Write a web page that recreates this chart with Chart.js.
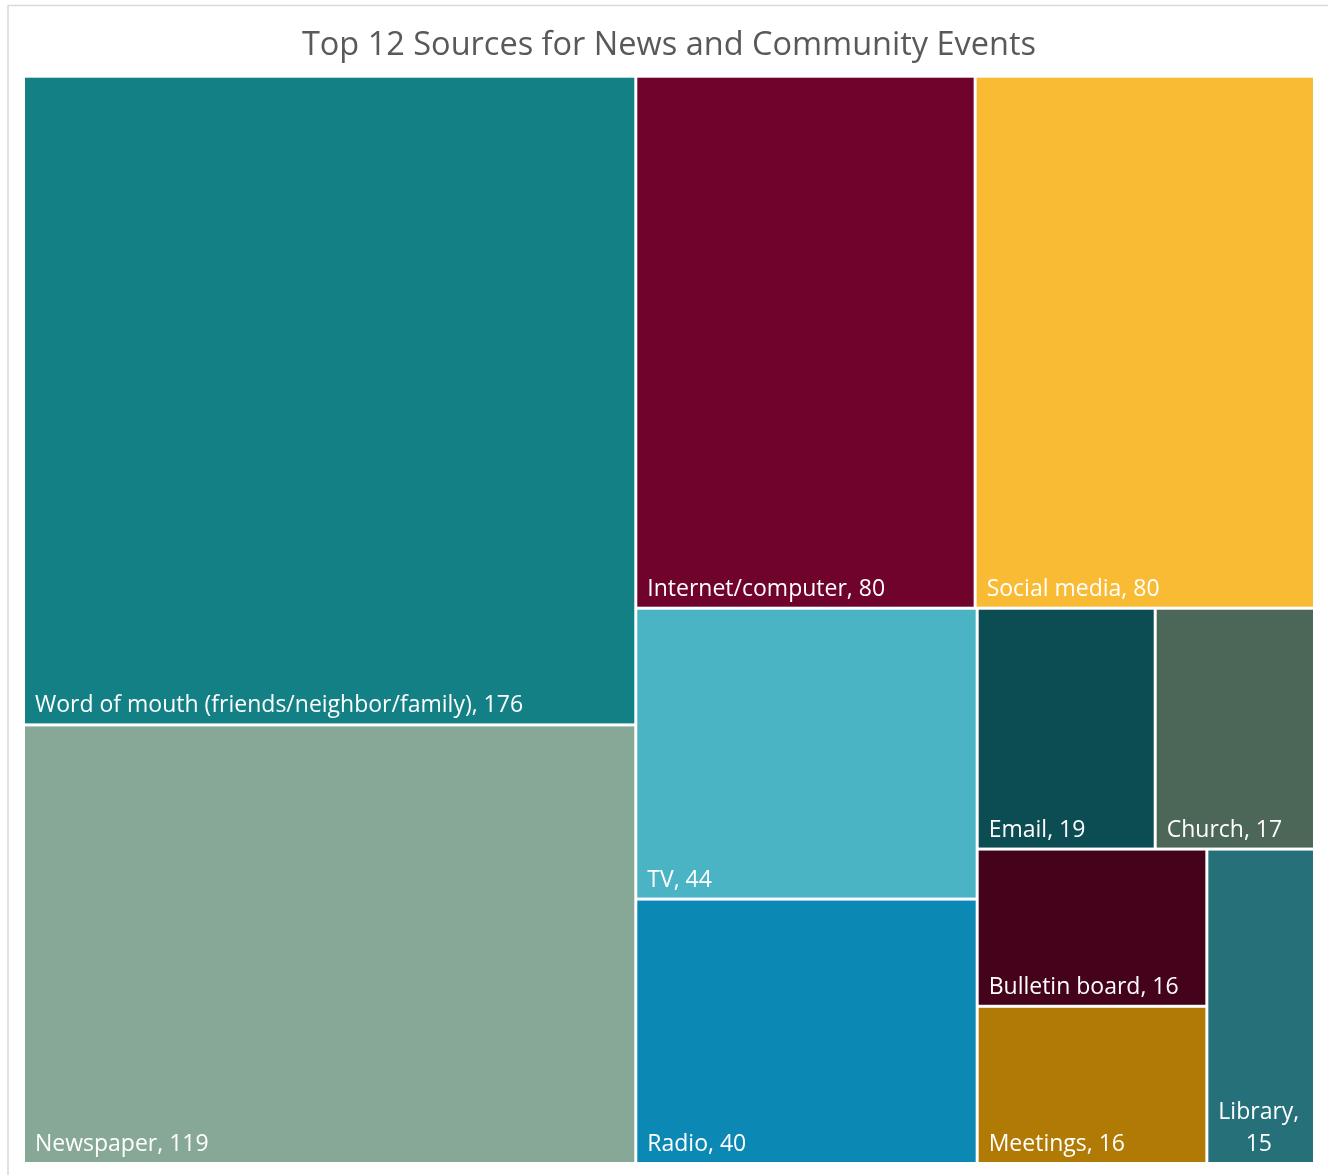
<!DOCTYPE html>
<html>
<head>
<meta charset="utf-8">
<title>Top 12 Sources for News and Community Events</title>
<script src="https://cdn.jsdelivr.net/npm/chart.js@4.4.1/dist/chart.umd.min.js"></script>
<style>
  html, body { margin: 0; padding: 0; background: #fff; }
  canvas { display: block; }
</style>
</head>
<body>
<canvas id="sourcesChart" width="1328" height="1175"></canvas>
<script>
const sources = [
  'Word of mouth (friends/neighbor/family)', 'Newspaper', 'Internet/computer',
  'Social media', 'TV', 'Radio', 'Email', 'Church', 'Bulletin board',
  'Meetings', 'Library'
];
const responses = [176, 119, 80, 80, 44, 40, 19, 17, 16, 16, 15];
const cellColors = [
  '#138085', '#87a896', '#6f032c', '#f9bb34', '#4ab3c4', '#0b88b3',
  '#0c4d54', '#4c6758', '#44031a', '#b07a04', '#267079'
];

const FONT = '"Open Sans", "Noto Sans", sans-serif';

// worst aspect ratio of a row laid along a side of given length
function worstRatio(row, side) {
  let sum = 0, max = -Infinity, min = Infinity;
  row.forEach(r => { sum += r.area; max = Math.max(max, r.area); min = Math.min(min, r.area); });
  const s2 = side * side, sum2 = sum * sum;
  return Math.max(s2 * max / sum2, sum2 / (s2 * min));
}

// squarified layout, values are assumed sorted descending
function squarify(values, w, h) {
  const total = values.reduce((a, b) => a + b, 0);
  let items = values.map((v, i) => ({ i, area: v / total * w * h }));
  const out = [];
  let x = 0, y = 0;
  while (items.length) {
    const side = Math.min(w, h);
    const row = [items[0]];
    let k = 1;
    while (k < items.length && worstRatio(row.concat(items[k]), side) <= worstRatio(row, side)) {
      row.push(items[k]);
      k++;
    }
    items = items.slice(k);
    const sum = row.reduce((a, r) => a + r.area, 0);
    if (w >= h) {
      const cw = sum / h;
      let cy = y;
      row.forEach(r => { const rh = r.area / cw; out[r.i] = { x, y: cy, w: cw, h: rh }; cy += rh; });
      x += cw; w -= cw;
    } else {
      const rh = sum / w;
      let cx = x;
      row.forEach(r => { const cw = r.area / rh; out[r.i] = { x: cx, y, w: cw, h: rh }; cx += cw; });
      y += rh; h -= rh;
    }
  }
  return out;
}

class CellElement extends Chart.Element {
  static id = 'cell';
  static defaults = { backgroundColor: '#888', spacing: 1.5 };

  draw(ctx) {
    const { x, y, w, h, options } = this;
    if (!(w > 0 && h > 0)) return;
    ctx.save();
    ctx.fillStyle = options.backgroundColor;
    ctx.fillRect(x, y, w, h);
    ctx.restore();
  }
  inRange(mx, my) {
    return mx >= this.x && mx <= this.x + this.w && my >= this.y && my <= this.y + this.h;
  }
  inXRange(mx) { return mx >= this.x && mx <= this.x + this.w; }
  inYRange(my) { return my >= this.y && my <= this.y + this.h; }
  getCenterPoint() { return { x: this.x + this.w / 2, y: this.y + this.h / 2 }; }
}

class TreemapController extends Chart.DatasetController {
  static id = 'treemap';
  static defaults = { datasetElementType: false, dataElementType: 'cell' };

  update(mode) {
    const meta = this._cachedMeta;
    this.updateElements(meta.data, 0, meta.data.length, mode);
  }

  updateElements(cells, start, count, mode) {
    const meta = this._cachedMeta;
    const xs = meta.xScale, ys = meta.yScale;
    const pw = Math.abs(xs.getPixelForValue(1) - xs.getPixelForValue(0));
    const ph = Math.abs(ys.getPixelForValue(1) - ys.getPixelForValue(0));
    const values = this.getDataset().data;
    const rects = (pw > 0 && ph > 0) ? squarify(values, pw, ph) : [];
    for (let i = start; i < start + count; i++) {
      const options = this.resolveDataElementOptions(i, mode);
      const r = rects[i];
      let props = { x: 0, y: 0, w: 0, h: 0, options };
      if (r) {
        // back to data units, then through the scales
        const x0 = xs.getPixelForValue(r.x / pw), x1 = xs.getPixelForValue((r.x + r.w) / pw);
        const y0 = ys.getPixelForValue(r.y / ph), y1 = ys.getPixelForValue((r.y + r.h) / ph);
        const g = options.spacing;
        props = { x: x0 + g, y: y0 + g, w: x1 - x0 - 2 * g, h: y1 - y0 - 2 * g, options };
      }
      this.updateElement(cells[i], i, props, mode);
    }
  }

  draw() {
    super.draw();
    const ctx = this.chart.ctx;
    const meta = this._cachedMeta;
    const values = this.getDataset().data;
    const labels = this.chart.data.labels;
    const pad = 10, lineH = 32;
    ctx.save();
    ctx.font = '23px ' + FONT;
    ctx.fillStyle = '#ffffff';
    ctx.textBaseline = 'alphabetic';
    meta.data.forEach((cell, i) => {
      const text = labels[i] + ', ' + values[i];
      const maxW = cell.w - 2 * pad;
      let lines = [text];
      if (ctx.measureText(text).width > maxW) {
        lines = [];
        let cur = '';
        text.split(' ').forEach(word => {
          const test = cur ? cur + ' ' + word : word;
          if (cur && ctx.measureText(test).width > maxW) { lines.push(cur); cur = word; }
          else cur = test;
        });
        lines.push(cur);
      }
      const bottom = cell.y + cell.h - 11;
      if (lines.length === 1) {
        ctx.textAlign = 'left';
        ctx.fillText(lines[0], cell.x + pad, bottom);
      } else {
        const blockW = Math.max(...lines.map(l => ctx.measureText(l).width));
        ctx.textAlign = 'center';
        lines.forEach((l, k) => {
          ctx.fillText(l, cell.x + pad + blockW / 2, bottom - (lines.length - 1 - k) * lineH);
        });
      }
    });
    ctx.restore();
  }
}

Chart.register(TreemapController, CellElement);

// thin grey frame around the chart
const chartFrame = {
  id: 'chartFrame',
  beforeDraw(chart) {
    const ctx = chart.ctx;
    ctx.save();
    ctx.strokeStyle = '#d9d9d9';
    ctx.lineWidth = 1.5;
    ctx.strokeRect(8, 5.5, chart.width + 20, chart.height + 20);
    ctx.restore();
  }
};

new Chart(document.getElementById('sourcesChart'), {
  type: 'treemap',
  data: {
    labels: sources,
    datasets: [{
      label: 'Responses',
      data: responses,
      backgroundColor: cellColors
    }]
  },
  options: {
    responsive: false,
    animation: false,
    events: [],
    layout: { padding: { top: 11, left: 23.5, right: 13.5, bottom: 11.5 } },
    scales: {
      x: { type: 'linear', min: 0, max: 1, display: false },
      y: { type: 'linear', min: 0, max: 1, reverse: true, display: false }
    },
    plugins: {
      legend: { display: false },
      tooltip: { enabled: false },
      title: {
        display: true,
        text: 'Top 12 Sources for News and Community Events',
        color: '#595959',
        font: { family: FONT, size: 32.5, weight: 'normal' },
        padding: { top: 15, bottom: 11.2 }
      }
    }
  },
  plugins: [chartFrame]
});
</script>
</body>
</html>
